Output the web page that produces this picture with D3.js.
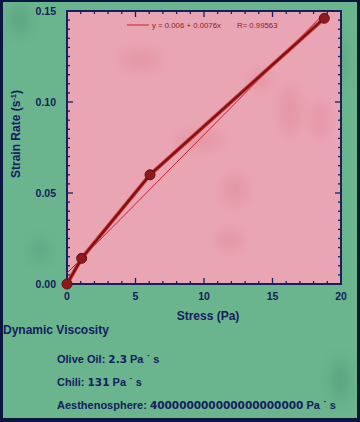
<!DOCTYPE html>
<html><head><meta charset="utf-8">
<script src="https://cdn.jsdelivr.net/npm/d3@7"></script>
<style>body{margin:0;background:#0c1440;}svg{display:block;}</style>
</head><body>
<svg id="chart" width="360" height="422"></svg>
<script>
// ---- data ----
const stress = [0, 1.07, 6.06, 18.78];          // Pa
const strainRate = [0, 0.0141, 0.060, 0.146];   // s^-1
const fitIntercept = 0.006, fitSlope = 0.0076;
const legendText = "y = 0.006 + 0.0076x";
const rText = "R= 0.99563";
const xTickValues = [0, 5, 10, 15, 20];
const yTickValues = [0, 0.05, 0.10, 0.15];
const viscosityTitle = "Dynamic Viscosity";
const viscosityNames = ["Olive Oil: ", "Chili: ", "Aesthenosphere: "];
const viscosityValues = ["2.3", "131", "400000000000000000000"];
const viscosityUnit = " Pa ˙ s";

const svg = d3.select("#chart");
const W = 360, H = 422;
const navy = "#15205e";
const M = {l: 67, r: 341, t: 11, b: 284};

// background
const defs = svg.append("defs");
const blur = defs.append("filter").attr("id","bl").attr("x","-50%").attr("y","-50%").attr("width","200%").attr("height","200%");
blur.append("feGaussianBlur").attr("stdDeviation", 7);
svg.append("rect").attr("width", W).attr("height", H).attr("fill", "#0c1440");
svg.append("rect").attr("x", 3).attr("y", 2).attr("width", 354).attr("height", 416).attr("fill", "#6ab48e");
// subtle texture on green
const gblobs = [[20,20,10,14],[40,250,8,10],[330,60,14,30],[340,380,10,20],[300,200,8,20]];
svg.append("g").selectAll("ellipse").data(gblobs).join("ellipse")
  .attr("cx", d=>d[0]).attr("cy", d=>d[1]).attr("rx", d=>d[2]).attr("ry", d=>d[3])
  .attr("fill", "#3f8a66").attr("opacity", 0.35).attr("filter","url(#bl)");

const x = d3.scaleLinear().domain([0, 20]).range([M.l, M.r]);
const y = d3.scaleLinear().domain([0, 0.15]).range([M.b, M.t]);

// plot area
svg.append("rect").attr("x", M.l).attr("y", M.t).attr("width", M.r - M.l).attr("height", M.b - M.t).attr("fill", "#eaa5b4");
const pblobs = [[235,190,12,16],[230,240,14,10],[290,110,10,25],[320,120,8,20],[140,60,20,10],[260,80,10,10],[200,140,25,8]];
svg.append("g").selectAll("ellipse").data(pblobs).join("ellipse")
  .attr("cx", d=>d[0]).attr("cy", d=>d[1]).attr("rx", d=>d[2]).attr("ry", d=>d[3])
  .attr("fill", "#dc7f92").attr("opacity", 0.4).attr("filter","url(#bl)");

// ticks
const gT = svg.append("g").attr("stroke", navy).attr("stroke-width", 1.3);
const xMinor = d3.range(0, 20.001, 1);
const yMinor = d3.range(0, 0.1501, 0.005);
xMinor.forEach(v => {
  const major = Math.abs(v % 5) < 1e-9;
  const len = major ? 6 : 3;
  gT.append("line").attr("x1", x(v)).attr("x2", x(v)).attr("y1", M.b).attr("y2", M.b - len);
  gT.append("line").attr("x1", x(v)).attr("x2", x(v)).attr("y1", M.t).attr("y2", M.t + len);
});
yMinor.forEach(v => {
  const major = Math.abs(Math.round(v * 1000) % 50) < 1e-6;
  const len = major ? 6 : 3;
  gT.append("line").attr("y1", y(v)).attr("y2", y(v)).attr("x1", M.l).attr("x2", M.l + len);
  gT.append("line").attr("y1", y(v)).attr("y2", y(v)).attr("x1", M.r).attr("x2", M.r - len);
});

// frame
svg.append("rect").attr("x", M.l).attr("y", M.t).attr("width", M.r - M.l).attr("height", M.b - M.t)
  .attr("fill", "none").attr("stroke", navy).attr("stroke-width", 2);

// tick labels
const font = "'Liberation Sans', Arial, sans-serif";
svg.append("g").selectAll("text").data(yTickValues).join("text")
  .attr("x", 56).attr("y", d => y(d) + 4).attr("text-anchor", "end")
  .attr("font-family", font).attr("font-weight", "bold").attr("font-size", 10.5).attr("fill", navy)
  .text(d => d3.format(".2f")(d));
svg.append("g").selectAll("text").data(xTickValues).join("text")
  .attr("x", d => x(d)).attr("y", 300).attr("text-anchor", "middle")
  .attr("font-family", font).attr("font-weight", "bold").attr("font-size", 10.5).attr("fill", navy)
  .text(d => d);

// axis titles
svg.append("text").attr("x", 208).attr("y", 320).attr("text-anchor", "middle")
  .attr("font-family", font).attr("font-weight", "bold").attr("font-size", 12).attr("fill", navy)
  .text("Stress (Pa)");
const yl = svg.append("text").attr("transform", "translate(20,134) rotate(-90)").attr("text-anchor", "middle")
  .attr("font-family", font).attr("font-weight", "bold").attr("font-size", 12).attr("fill", navy);
yl.append("tspan").text("Strain Rate (s");
yl.append("tspan").attr("dy", -4).attr("font-size", 7.5).text("-1");
yl.append("tspan").attr("dy", 4).text(")");

// regression line
svg.append("line")
  .attr("x1", x(0)).attr("y1", y(fitIntercept))
  .attr("x2", x(stress[stress.length - 1])).attr("y2", y(fitIntercept + fitSlope * stress[stress.length - 1]))
  .attr("stroke", "#c8202a").attr("stroke-width", 1);

// data line
const pts = stress.map((s, i) => [s, strainRate[i]]);
const line = d3.line().x(d => x(d[0])).y(d => y(d[1]));
svg.append("path").datum(pts).attr("d", line).attr("fill", "none")
  .attr("stroke", "#d03a3a").attr("stroke-width", 4).attr("stroke-linejoin", "round");
svg.append("path").datum(pts).attr("d", line).attr("fill", "none")
  .attr("stroke", "#7c0f12").attr("stroke-width", 2.2).attr("stroke-linejoin", "round");
svg.append("g").selectAll("circle").data(pts).join("circle")
  .attr("cx", d => x(d[0])).attr("cy", d => y(d[1])).attr("r", 5)
  .attr("fill", "#8c1a1c").attr("stroke", "#6a0c0e").attr("stroke-width", 1);

// legend
svg.append("line").attr("x1", 127).attr("x2", 149).attr("y1", 25).attr("y2", 25)
  .attr("stroke", "#c8202a").attr("stroke-width", 1);
svg.append("text").attr("x", 152).attr("y", 27.5).attr("font-family", font).attr("font-size", 7.8)
  .attr("fill", "#8a1a1f").text(legendText);
svg.append("text").attr("x", 237).attr("y", 27.5).attr("font-family", font).attr("font-size", 7.8)
  .attr("fill", "#8a1a1f").text(rText);

// viscosity text
svg.append("text").attr("x", 3).attr("y", 334).attr("font-family", font).attr("font-weight", "bold")
  .attr("font-size", 12).attr("fill", navy).text(viscosityTitle);
const vy = [363, 386, 409];
viscosityNames.forEach((n, i) => {
  const t = svg.append("text").attr("x", 57).attr("y", vy[i]).attr("font-family", font)
    .attr("font-weight", "bold").attr("font-size", 11).attr("fill", navy);
  t.append("tspan").text(n);
  t.append("tspan").attr("font-family", "'DejaVu Sans', sans-serif").attr("font-size", 10.5).text(viscosityValues[i]);
  t.append("tspan").text(viscosityUnit);
});
</script>
</body></html>
